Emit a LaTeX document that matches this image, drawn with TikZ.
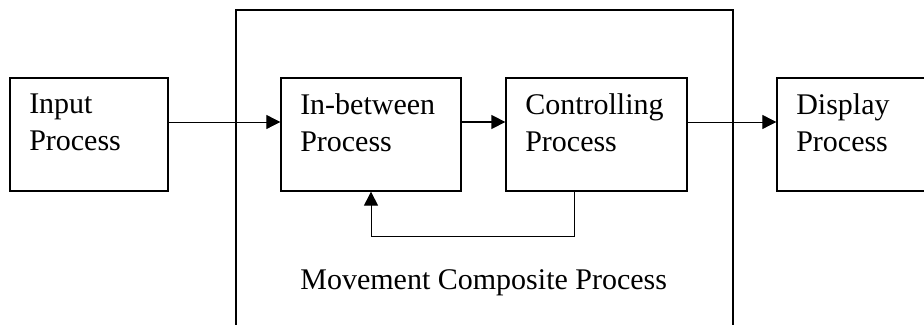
\documentclass[tikz,border=0pt]{standalone}
\usepackage{fontspec}
\setmainfont{Liberation Serif}
\usetikzlibrary{arrows.meta,positioning}

\tikzset{
	procbox/.style={draw, line width=0.65pt, minimum width=#1, minimum height=56.5pt, inner sep=0pt},
	proctext/.style={align=left, inner sep=0pt, font=\fontsize{15pt}{18.6pt}\selectfont},
	flow/.style={-{Triangle[length=7pt,width=7pt]}, line width=0.4pt},
}

\begin{document}
\begin{tikzpicture}[x=0.5pt, y=-0.5pt]
\useasboundingbox (0,0) rectangle (924,325);
\clip (0,0) rectangle (924,325);

%% Composite process (runs past the lower edge)
\draw[line width=0.75pt] (236,340) -- (236,10) -- (733,10) -- (733,340);
\node[proctext, anchor=base west] (comp) at (300,290) {Movement Composite Process};

%% Processes
\node[procbox=79pt] (inp) at (89,134.5) {};
\node[procbox=90pt] (btw) at (371,134.5) {};
\node[procbox=90.5pt] (ctl) at (596.5,134.5) {};
\node[procbox=90pt] (dsp) at (867,134.5) {};

\node[proctext, below right=8pt and 9.75pt of inp.north west] (inptxt) {Input\\Process};
\node[proctext, below right=8pt and 9.75pt of btw.north west] (btwtxt) {In-between\\Process};
\node[proctext, below right=8pt and 9.75pt of ctl.north west] (ctltxt) {Controlling\\Process};
\node[proctext, below right=8pt and 9.75pt of dsp.north west] (dsptxt) {Display\\Process};
%%%%%%%%%%%%%%%%

%% Flow
\draw[flow] ([yshift=6.25pt]inp.east) -- ([yshift=6.25pt]btw.west);
\draw[flow, line width=0.65pt] ([yshift=6.25pt]btw.east) -- ([yshift=6.25pt]ctl.west);
\draw[flow] ([yshift=6.25pt]ctl.east) -- ([yshift=6.25pt]dsp.west);
\draw[flow, line width=0.5pt] ([xshift=-11.25pt]ctl.south) -- ++(0,45) -| (btw.south);

\end{tikzpicture}
\end{document}
